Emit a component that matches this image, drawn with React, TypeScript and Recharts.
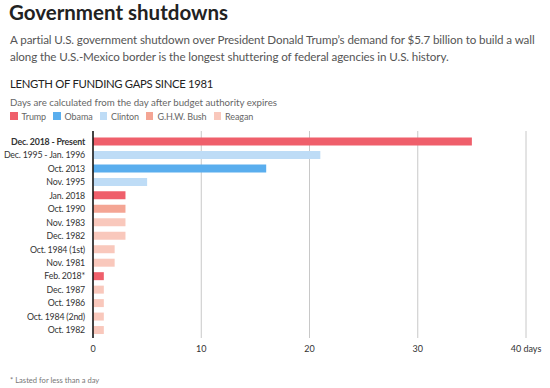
import React from 'react';
import { BarChart, Bar, XAxis, YAxis, CartesianGrid, Cell } from 'recharts';

const labels = [
  'Dec. 2018 - Present',
  'Dec. 1995 - Jan. 1996',
  'Oct. 2013',
  'Nov. 1995',
  'Jan. 2018',
  'Oct. 1990',
  'Nov. 1983',
  'Dec. 1982',
  'Oct. 1984 (1st)',
  'Nov. 1981',
  'Feb. 2018*',
  'Dec. 1987',
  'Oct. 1986',
  'Oct. 1984 (2nd)',
  'Oct. 1982',
];
const days = [35, 21, 16, 5, 3, 3, 3, 3, 2, 2, 1, 1, 1, 1, 1];
const presidents = [
  'Trump', 'Clinton', 'Obama', 'Clinton', 'Trump', 'G.H.W. Bush', 'Reagan', 'Reagan',
  'Reagan', 'Reagan', 'Trump', 'Reagan', 'Reagan', 'Reagan', 'Reagan',
];
const legendNames = ['Trump', 'Obama', 'Clinton', 'G.H.W. Bush', 'Reagan'];
const xTicks = [0, 10, 20, 30, 40];

const colors: Record<string, string> = {
  Trump: '#ef5f6b',
  Obama: '#5aaeee',
  Clinton: '#bedcf6',
  'G.H.W. Bush': '#f4a594',
  Reagan: '#f9c8bc',
};

const data = labels.map((label, i) => ({ label, days: days[i], president: presidents[i] }));

const FONT = 'Lato, "Open Sans", sans-serif';

// first label is bold, like the source
const YTick = (props: any) => {
  const { x, y, payload } = props;
  const bold = payload.index === 0;
  return (
    <text x={x} y={y} dy="0.35em" textAnchor="end" fontSize={8.8} letterSpacing={-0.2} fill="#333" fontWeight={bold ? 700 : 400} fontFamily={FONT}>
      {payload.value}
    </text>
  );
};

const App: React.FC = () => {
  return (
    <div style={{ position: 'absolute', left: 0, top: 0, width: 550, height: 388, background: '#fff', fontFamily: FONT, overflow: 'hidden' }}>
      <div style={{ position: 'absolute', left: 9, top: 2, fontSize: 20.5, lineHeight: '20px', fontWeight: 700, color: '#222', whiteSpace: 'nowrap' }}>
        Government shutdowns
      </div>
      <div style={{ position: 'absolute', left: 10, top: 31, width: 540, fontSize: 11.6, lineHeight: '17px', letterSpacing: -0.1, color: '#555' }}>
        A partial U.S. government shutdown over President Donald Trump’s demand for $5.7 billion to build a wall along the U.S.-Mexico border is the longest shuttering of federal agencies in U.S. history.
      </div>
      <div style={{ position: 'absolute', left: 10, top: 78, fontSize: 11.3, lineHeight: '12px', letterSpacing: -0.3, color: '#222', whiteSpace: 'nowrap' }}>
        LENGTH OF FUNDING GAPS SINCE 1981
      </div>
      <div style={{ position: 'absolute', left: 10, top: 97, fontSize: 9.7, lineHeight: '10px', color: '#666', whiteSpace: 'nowrap' }}>
        Days are calculated from the day after budget authority expires
      </div>
      <div style={{ position: 'absolute', left: 10, top: 110, height: 12, display: 'flex', alignItems: 'center', gap: 7, fontSize: 9, letterSpacing: -0.1, color: '#666' }}>
        {legendNames.map((n) => (
          <div key={n} style={{ display: 'flex', alignItems: 'center', gap: 4 }}>
            <div style={{ width: 7.5, height: 7.5, background: colors[n] }} />
            <span>{n}</span>
          </div>
        ))}
      </div>
      <div style={{ position: 'absolute', left: 0, top: 0 }}>
        <BarChart
          width={550}
          height={388}
          data={data}
          layout="vertical"
          margin={{ top: 131, right: 24, bottom: 30, left: 0 }}
          barCategoryGap={2.5}
        >
          <CartesianGrid horizontal={false} stroke="#c8c8c8" />
          <XAxis
            type="number"
            domain={[0, 40]}
            ticks={xTicks}
            axisLine={false}
            tickLine={false}
            height={20}
            tick={{ fontSize: 9, fill: '#333', fontFamily: FONT }}
            tickFormatter={(v: number) => (v === 40 ? '40 days' : String(v))}
          />
          <YAxis
            type="category"
            dataKey="label"
            width={93}
            tickLine={false}
            axisLine={{ stroke: '#111', strokeWidth: 1.5 }}
            tick={<YTick />}
            interval={0}
            padding={{ top: 4, bottom: 1 }}
          />
          <Bar dataKey="days" isAnimationActive={false}>
            {data.map((d, i) => (
              <Cell key={i} fill={colors[d.president]} />
            ))}
          </Bar>
        </BarChart>
      </div>
      <div style={{ position: 'absolute', left: 10, top: 377, fontSize: 7.6, lineHeight: '7.6px', color: '#777', whiteSpace: 'nowrap' }}>
        * Lasted for less than a day
      </div>
    </div>
  );
};

export default App;
